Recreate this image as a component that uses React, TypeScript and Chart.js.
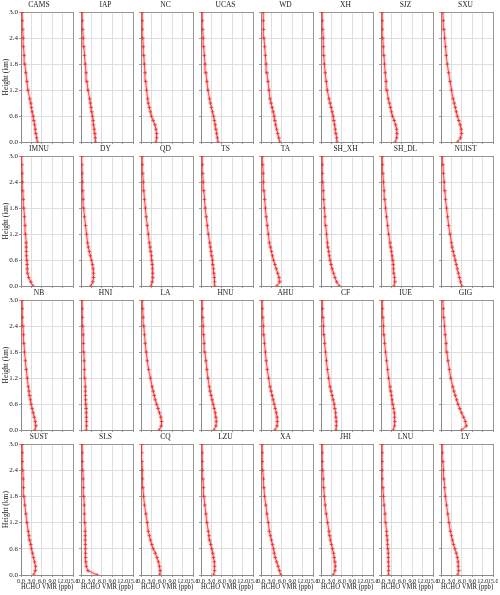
import React, { useEffect, useRef } from 'react';
import { Chart, registerables } from 'chart.js';

Chart.register(...registerables);

// Heights (km) of the profile levels
const heights = [0, 0.1, 0.2, 0.3, 0.4, 0.5, 0.6, 0.7, 0.8, 0.9, 1.0, 1.2, 1.4, 1.6, 1.8, 2.0, 2.2, 2.4, 2.6, 2.8, 3.0];

// Axis ticks
const xTickValues = [0, 3, 6, 9, 12, 15];
const yTickValues = [0, 0.6, 1.2, 1.8, 2.4, 3.0];

const xLabel = 'HCHO VMR (ppb)';
const yLabel = 'Height (km)';

// HCHO VMR (ppb) profiles per station
const CAMS = [4.7, 4.5, 4.3, 4.1, 3.9, 3.7, 3.5, 3.2, 3.0, 2.8, 2.5, 2.0, 1.7, 1.4, 1.1, 0.9, 0.7, 0.6, 0.5, 0.4, 0.3];
const IAP = [4.2, 4.1, 4.0, 3.8, 3.6, 3.5, 3.3, 3.1, 2.9, 2.7, 2.5, 2.0, 1.7, 1.45, 1.2, 1.0, 0.8, 0.6, 0.5, 0.4, 0.3];
const NC = [4.3, 4.5, 4.5, 4.3, 4.0, 3.5, 3.0, 2.7, 2.4, 2.1, 1.9, 1.6, 1.35, 1.15, 0.95, 0.8, 0.65, 0.5, 0.4, 0.35, 0.3];
const UCAS = [4.9, 4.7, 4.5, 4.3, 4.1, 3.85, 3.6, 3.3, 3.0, 2.7, 2.45, 2.0, 1.7, 1.4, 1.15, 0.95, 0.75, 0.6, 0.5, 0.4, 0.3];
const WD = [5.4, 5.1, 4.8, 4.5, 4.2, 4.0, 3.8, 3.5, 3.2, 2.9, 2.6, 2.3, 2.0, 1.7, 1.45, 1.25, 1.05, 0.85, 0.75, 0.65, 0.6];
const XH = [4.6, 4.5, 4.3, 4.1, 3.9, 3.7, 3.5, 3.2, 2.9, 2.6, 2.3, 1.8, 1.5, 1.2, 0.95, 0.8, 0.7, 0.6, 0.5, 0.4, 0.3];
const SJZ = [4.1, 4.5, 4.6, 4.5, 4.2, 3.8, 3.3, 3.0, 2.7, 2.4, 2.1, 1.7, 1.45, 1.2, 1.0, 0.85, 0.65, 0.5, 0.4, 0.35, 0.3];
const SXU = [4.7, 5.6, 5.9, 5.8, 5.5, 5.1, 4.7, 4.4, 4.1, 3.8, 3.5, 3.0, 2.6, 2.2, 1.8, 1.5, 1.3, 1.05, 0.85, 0.65, 0.5];

const IMNU = [3.5, 2.8, 2.2, 1.9, 1.8, 1.75, 1.7, 1.6, 1.55, 1.5, 1.45, 1.3, 1.15, 1.0, 0.8, 0.65, 0.5, 0.4, 0.3, 0.25, 0.2];
const DY = [2.8, 3.4, 3.6, 3.6, 3.5, 3.3, 3.0, 2.7, 2.4, 2.1, 1.9, 1.6, 1.3, 1.0, 0.75, 0.6, 0.5, 0.4, 0.3, 0.25, 0.2];
const QD = [2.9, 3.2, 3.4, 3.4, 3.3, 3.2, 3.1, 3.0, 2.8, 2.6, 2.4, 2.1, 1.8, 1.5, 1.25, 1.0, 0.8, 0.65, 0.5, 0.4, 0.3];
const TS = [4.0, 3.9, 3.8, 3.7, 3.6, 3.4, 3.3, 3.1, 2.9, 2.7, 2.5, 2.1, 1.8, 1.5, 1.2, 1.0, 0.8, 0.6, 0.5, 0.4, 0.3];
const TA = [4.5, 5.4, 5.2, 4.8, 4.4, 4.0, 3.6, 3.3, 3.0, 2.7, 2.4, 2.1, 1.8, 1.5, 1.25, 1.05, 0.85, 0.7, 0.6, 0.5, 0.4];
const SH_XH = [5.3, 4.5, 4.0, 3.6, 3.2, 2.9, 2.6, 2.4, 2.2, 2.0, 1.85, 1.6, 1.35, 1.15, 0.95, 0.8, 0.65, 0.5, 0.4, 0.35, 0.3];
const SH_DL = [3.7, 4.0, 3.9, 3.7, 3.6, 3.5, 3.4, 3.2, 3.0, 2.8, 2.6, 2.2, 1.9, 1.6, 1.3, 1.1, 0.9, 0.7, 0.55, 0.45, 0.35];
const NUIST = [6.0, 5.6, 5.3, 5.0, 4.7, 4.4, 4.1, 3.8, 3.5, 3.2, 3.0, 2.6, 2.2, 1.9, 1.6, 1.3, 1.1, 0.9, 0.7, 0.55, 0.4];

const NB = [4.0, 4.3, 4.1, 3.8, 3.5, 3.2, 2.9, 2.7, 2.5, 2.3, 2.1, 1.8, 1.5, 1.25, 1.0, 0.85, 0.7, 0.55, 0.45, 0.35, 0.3];
const HNI = [1.5, 1.6, 1.6, 1.55, 1.5, 1.45, 1.4, 1.35, 1.3, 1.25, 1.2, 1.1, 1.0, 0.9, 0.8, 0.7, 0.6, 0.5, 0.4, 0.35, 0.3];
const LA = [5.2, 5.8, 5.9, 5.7, 5.3, 4.9, 4.5, 4.1, 3.8, 3.5, 3.2, 2.7, 2.2, 1.8, 1.5, 1.2, 1.0, 0.8, 0.6, 0.5, 0.4];
const HNU = [3.7, 4.3, 4.4, 4.3, 4.1, 3.8, 3.5, 3.2, 2.9, 2.6, 2.4, 2.0, 1.7, 1.4, 1.1, 0.9, 0.75, 0.6, 0.5, 0.4, 0.3];
const AHU = [4.0, 4.6, 4.7, 4.6, 4.4, 4.1, 3.8, 3.5, 3.2, 2.9, 2.6, 2.2, 1.8, 1.5, 1.25, 1.0, 0.8, 0.65, 0.5, 0.4, 0.3];
const CF = [4.3, 4.4, 4.4, 4.3, 4.2, 4.0, 3.8, 3.5, 3.2, 2.9, 2.6, 2.2, 1.85, 1.55, 1.3, 1.05, 0.85, 0.7, 0.55, 0.45, 0.35];
const IUE = [3.5, 3.9, 4.0, 3.9, 3.8, 3.6, 3.4, 3.2, 3.0, 2.8, 2.6, 2.2, 1.9, 1.6, 1.3, 1.05, 0.85, 0.7, 0.55, 0.45, 0.35];
const GIG = [5.9, 7.3, 7.0, 6.5, 5.9, 5.4, 4.9, 4.5, 4.1, 3.7, 3.4, 2.8, 2.4, 2.0, 1.7, 1.45, 1.2, 1.0, 0.8, 0.65, 0.5];

const SUST = [3.6, 4.1, 4.2, 3.9, 3.6, 3.3, 3.0, 2.8, 2.5, 2.3, 2.1, 1.7, 1.4, 1.1, 0.85, 0.7, 0.6, 0.5, 0.4, 0.35, 0.3];
const SLS = [4.7, 2.0, 1.5, 1.4, 1.35, 1.3, 1.3, 1.25, 1.2, 1.2, 1.15, 1.1, 1.0, 0.9, 0.8, 0.7, 0.6, 0.5, 0.4, 0.35, 0.3];
const CQ = [5.4, 5.5, 5.3, 5.0, 4.6, 4.1, 3.5, 3.1, 2.7, 2.4, 2.1, 1.8, 1.4, 1.0, 0.75, 0.55, 0.45, 0.35, 0.25, 0.2, 0.15];
const LZU = [3.6, 3.9, 3.9, 3.8, 3.6, 3.4, 3.1, 2.8, 2.5, 2.3, 2.1, 1.7, 1.4, 1.1, 0.85, 0.7, 0.55, 0.45, 0.35, 0.3, 0.25];
const XA = [5.7, 5.3, 4.9, 4.5, 4.1, 3.8, 3.6, 3.3, 3.0, 2.7, 2.4, 2.1, 1.7, 1.4, 1.0, 0.85, 0.7, 0.5, 0.4, 0.35, 0.3];
const JHI = [3.5, 4.0, 4.1, 4.0, 3.8, 3.6, 3.3, 3.0, 2.7, 2.5, 2.3, 1.9, 1.5, 1.2, 0.95, 0.8, 0.65, 0.5, 0.4, 0.35, 0.3];
const LNU = [2.2, 2.2, 2.2, 2.1, 2.1, 2.05, 2.0, 1.9, 1.8, 1.7, 1.6, 1.35, 1.15, 0.9, 0.7, 0.55, 0.4, 0.3, 0.3, 0.3, 0.3];
const LY = [4.8, 5.1, 5.0, 4.9, 4.7, 4.4, 4.0, 3.6, 3.3, 3.0, 2.7, 2.3, 1.95, 1.6, 1.25, 1.05, 0.85, 0.7, 0.55, 0.4, 0.3];

const stationNames = [
  'CAMS', 'IAP', 'NC', 'UCAS', 'WD', 'XH', 'SJZ', 'SXU',
  'IMNU', 'DY', 'QD', 'TS', 'TA', 'SH_XH', 'SH_DL', 'NUIST',
  'NB', 'HNI', 'LA', 'HNU', 'AHU', 'CF', 'IUE', 'GIG',
  'SUST', 'SLS', 'CQ', 'LZU', 'XA', 'JHI', 'LNU', 'LY',
];
const stationValues = [
  CAMS, IAP, NC, UCAS, WD, XH, SJZ, SXU,
  IMNU, DY, QD, TS, TA, SH_XH, SH_DL, NUIST,
  NB, HNI, LA, HNU, AHU, CF, IUE, GIG,
  SUST, SLS, CQ, LZU, XA, JHI, LNU, LY,
];

const NCOLS = 8;
const NROWS = 4;
const PLOT_W = 48;
const PLOT_H = 131;
const COL0 = 21;
const COL_PITCH = 60;
const ROW0 = 12;
const ROW_PITCH = 144;
const TOP_M = 12;
const FONT = "'Liberation Serif', 'Times New Roman', serif";
const TEXT = '#1a1a1a';
const FRAME = '#8a8a8a';
const GRID = '#dadada';

function Panel({ name, values, col, row }: { name: string; values: number[]; col: number; row: number }) {
  const ref = useRef<HTMLCanvasElement | null>(null);
  const isLeft = col === 0;
  const isBottom = row === NROWS - 1;
  const L = isLeft ? 21 : 8;
  const R = 9;
  const B = isBottom ? 20 : 4;
  const width = L + PLOT_W + R;
  const height = TOP_M + PLOT_H + B;
  const left = COL0 + col * COL_PITCH - L;
  const top = ROW0 + row * ROW_PITCH - TOP_M;

  useEffect(() => {
    if (!ref.current) return;
    const pts = values.map((v, i) => ({ x: v, y: heights[i] }));
    const near = (a: number, b: number) => Math.abs(a - b) < 1e-6;
    const chart = new Chart(ref.current, {
      type: 'scatter',
      data: {
        datasets: [
          {
            data: pts,
            showLine: true,
            borderColor: 'rgba(255,70,70,0.22)',
            borderWidth: 3.5,
            pointRadius: 0,
            fill: false,
          },
          {
            data: pts,
            showLine: true,
            borderColor: 'rgba(238,45,45,0.9)',
            borderWidth: 0.9,
            pointStyle: 'cross',
            pointRadius: 1.8,
            pointBorderWidth: 0.8,
            pointBorderColor: '#e22424',
            pointBackgroundColor: '#e22424',
            fill: false,
          },
        ],
      },
      options: {
        responsive: false,
        maintainAspectRatio: false,
        animation: false,
        events: [],
        layout: { padding: 0 },
        plugins: {
          legend: { display: false },
          tooltip: { enabled: false },
          title: {
            display: true,
            text: name,
            color: TEXT,
            font: { family: FONT, size: 7.5, weight: 'normal' },
            padding: { top: 1, bottom: 2 },
          },
        },
        scales: {
          x: {
            type: 'linear',
            position: 'bottom',
            min: xTickValues[0],
            max: xTickValues[xTickValues.length - 1],
            afterBuildTicks: (s: any) => {
              s.ticks = xTickValues.map((v) => ({ value: v }));
            },
            afterFit: (s: any) => {
              s.height = B;
              s.paddingLeft = 0;
              s.paddingRight = 0;
            },
            ticks: {
              display: isBottom,
              autoSkip: false,
              maxRotation: 0,
              minRotation: 0,
              padding: 0.5,
              color: TEXT,
              font: { family: FONT, size: 6.3 },
              callback: (v: any) => Number(v).toFixed(1),
            },
            grid: {
              color: (ctx: any) =>
                ctx.tick && (near(ctx.tick.value, 15) || near(ctx.tick.value, 0)) ? FRAME : GRID,
              lineWidth: 0.9,
              tickColor: FRAME,
              tickLength: 2,
            },
            border: { display: true, color: FRAME, width: 1 },
            title: {
              display: isBottom,
              text: xLabel,
              color: TEXT,
              font: { family: FONT, size: 7.5 },
              padding: { top: 0, bottom: 3.5 },
            },
          },
          y: {
            type: 'linear',
            position: 'left',
            min: yTickValues[0],
            max: yTickValues[yTickValues.length - 1],
            afterBuildTicks: (s: any) => {
              s.ticks = yTickValues.map((v) => ({ value: v }));
            },
            afterFit: (s: any) => {
              s.width = L;
              s.paddingTop = 0;
              s.paddingBottom = 0;
            },
            ticks: {
              display: isLeft,
              padding: 1,
              color: TEXT,
              font: { family: FONT, size: 7 },
              callback: (v: any) => Number(v).toFixed(1),
            },
            grid: {
              color: (ctx: any) =>
                ctx.tick && (near(ctx.tick.value, 3) || near(ctx.tick.value, 0)) ? FRAME : GRID,
              lineWidth: 0.9,
              tickColor: FRAME,
              tickLength: 2,
            },
            border: { display: true, color: FRAME, width: 1 },
            title: {
              display: isLeft,
              text: yLabel,
              color: TEXT,
              font: { family: FONT, size: 7.5 },
              padding: { top: 1.5, bottom: 0 },
            },
          },
        },
      },
    } as any);
    return () => chart.destroy();
  }, [name, values, col, row]);

  return (
    <canvas
      ref={ref}
      width={width}
      height={height}
      style={{ position: 'absolute', left, top, width, height }}
    />
  );
}

export default function App() {
  return (
    <div style={{ position: 'absolute', left: 0, top: 0, width: 500, height: 595, background: '#ffffff', overflow: 'hidden' }}>
      {stationNames.map((name, i) => (
        <Panel key={name} name={name} values={stationValues[i]} col={i % NCOLS} row={Math.floor(i / NCOLS)} />
      ))}
    </div>
  );
}
